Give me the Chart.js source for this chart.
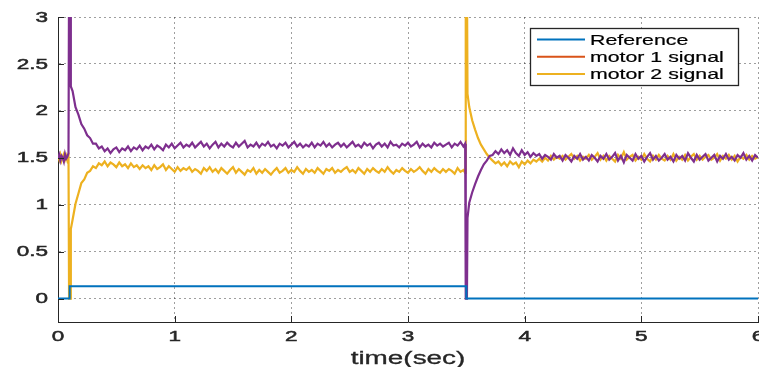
<!DOCTYPE html>
<html>
<head>
<meta charset="utf-8">
<script src="https://cdn.jsdelivr.net/npm/chart.js@4.4.1/dist/chart.umd.min.js"></script>
<style>
  html, body { margin: 0; padding: 0; background: #fff; }
  #chart { display: block; }
</style>
</head>
<body>
<canvas id="chart" width="759" height="367"></canvas>
<script>
// ─── DATA ────────────────────────────────────────────────────────────────────
const X_TICKS = [0, 1, 2, 3, 4, 5, 6];
const Y_TICKS = [0, 0.5, 1, 1.5, 2, 2.5, 3];
const LEGEND_LABELS = ['Reference', 'motor 1 signal', 'motor 2 signal'];
const LEGEND_COLORS = ['#0072BD', '#D95319', '#EDB120'];

// reference step
const REF_T = [0, 0.1, 0.1, 3.5, 3.5, 6];
const REF_V = [0, 0, 0.13, 0.13, 0, 0];

// sample times of the motor signals (sec)
const TIME = [
  0, 0.01, 0.02, 0.03, 0.04, 0.05, 0.06, 0.07, 0.08, 0.09,
  0.095, 0.105, 0.11,
  0.125, 0.15, 0.175, 0.2, 0.225, 0.25, 0.275, 0.3,
  0.325, 0.35, 0.375, 0.4, 0.425, 0.45, 0.475, 0.5,
  0.525, 0.55, 0.575, 0.6, 0.625, 0.65, 0.675, 0.7,
  0.725, 0.75, 0.775, 0.8, 0.825, 0.85, 0.875, 0.9,
  0.925, 0.95, 0.975, 1, 1.025, 1.05, 1.075, 1.1,
  1.125, 1.15, 1.175, 1.2, 1.225, 1.25, 1.275, 1.3,
  1.325, 1.35, 1.375, 1.4, 1.425, 1.45, 1.475, 1.5,
  1.525, 1.55, 1.575, 1.6, 1.625, 1.65, 1.675, 1.7,
  1.725, 1.75, 1.775, 1.8, 1.825, 1.85, 1.875, 1.9,
  1.925, 1.95, 1.975, 2, 2.025, 2.05, 2.075, 2.1,
  2.125, 2.15, 2.175, 2.2, 2.225, 2.25, 2.275, 2.3,
  2.325, 2.35, 2.375, 2.4, 2.425, 2.45, 2.475, 2.5,
  2.525, 2.55, 2.575, 2.6, 2.625, 2.65, 2.675, 2.7,
  2.725, 2.75, 2.775, 2.8, 2.825, 2.85, 2.875, 2.9,
  2.925, 2.95, 2.975, 3, 3.025, 3.05, 3.075, 3.1,
  3.125, 3.15, 3.175, 3.2, 3.225, 3.25, 3.275, 3.3,
  3.325, 3.35, 3.375, 3.4, 3.425, 3.45, 3.475,
  3.49, 3.495, 3.505, 3.51,
  3.525, 3.55, 3.575, 3.6, 3.625, 3.65, 3.675, 3.7,
  3.725, 3.75, 3.775, 3.8, 3.825, 3.85, 3.875, 3.9,
  3.925, 3.95, 3.975, 4, 4.025, 4.05, 4.075, 4.1,
  4.125, 4.15, 4.175, 4.2, 4.225, 4.25, 4.275, 4.3,
  4.325, 4.35, 4.375, 4.4, 4.425, 4.45, 4.475, 4.5,
  4.525, 4.55, 4.575, 4.6, 4.625, 4.65, 4.675, 4.7,
  4.725, 4.75, 4.775, 4.8, 4.825, 4.85, 4.875, 4.9,
  4.925, 4.95, 4.975, 5, 5.025, 5.05, 5.075, 5.1,
  5.125, 5.15, 5.175, 5.2, 5.225, 5.25, 5.275, 5.3,
  5.325, 5.35, 5.375, 5.4, 5.425, 5.45, 5.475, 5.5,
  5.525, 5.55, 5.575, 5.6, 5.625, 5.65, 5.675, 5.7,
  5.725, 5.75, 5.775, 5.8, 5.825, 5.85, 5.875, 5.9,
  5.925, 5.95, 5.975, 6
];

// motor 1 (purple trace)
const MOTOR1 = [
  1.49, 1.53, 1.47, 1.52, 1.50, 1.46, 1.54, 1.49, 1.51, 1.55,
  3.5, 3.5, 2.26,
  2.21, 2.04, 1.96, 1.86, 1.81, 1.74, 1.71, 1.65,
  1.65, 1.60, 1.62, 1.57, 1.60, 1.55, 1.59, 1.61,
  1.56, 1.60, 1.58, 1.62, 1.57, 1.61, 1.59, 1.63,
  1.58, 1.62, 1.60, 1.64, 1.59, 1.63, 1.61, 1.58,
  1.64, 1.61, 1.65, 1.60, 1.63, 1.66, 1.61, 1.64,
  1.62, 1.66, 1.61, 1.64, 1.67, 1.62, 1.65, 1.60,
  1.64, 1.67, 1.61, 1.65, 1.62, 1.66, 1.63, 1.61,
  1.66, 1.62, 1.65, 1.68, 1.61, 1.64, 1.62, 1.66,
  1.61, 1.65, 1.63, 1.67, 1.62, 1.64, 1.60, 1.65,
  1.63, 1.66, 1.61, 1.64, 1.67, 1.62, 1.65, 1.61,
  1.64, 1.62, 1.66, 1.61, 1.65, 1.63, 1.67, 1.62,
  1.65, 1.61, 1.64, 1.66, 1.62, 1.65, 1.61, 1.64,
  1.67, 1.62, 1.64, 1.61, 1.66, 1.63, 1.65, 1.60,
  1.64, 1.66, 1.62, 1.65, 1.61, 1.67, 1.63, 1.64,
  1.61, 1.65, 1.63, 1.66, 1.62, 1.64, 1.67, 1.61,
  1.65, 1.62, 1.64, 1.61, 1.66, 1.63, 1.65, 1.62,
  1.64, 1.66, 1.61, 1.65, 1.63, 1.67, 1.62,
  1.65, 0, 0, 0.86,
  1.02, 1.13, 1.22, 1.30, 1.37, 1.43, 1.47, 1.52,
  1.53, 1.57, 1.54, 1.59, 1.55, 1.58, 1.53, 1.60,
  1.55, 1.52, 1.58, 1.53, 1.56, 1.51, 1.55, 1.52,
  1.54, 1.49, 1.53, 1.51, 1.48, 1.54, 1.50, 1.52,
  1.47, 1.53, 1.50, 1.46, 1.52, 1.49, 1.54, 1.48,
  1.51, 1.47, 1.53, 1.50, 1.46, 1.52, 1.49, 1.54,
  1.48, 1.51, 1.55, 1.47, 1.52, 1.45, 1.53, 1.50,
  1.47, 1.54, 1.49, 1.52, 1.46, 1.51, 1.55, 1.48,
  1.52, 1.47, 1.50, 1.54, 1.48, 1.51, 1.46, 1.53,
  1.49, 1.52, 1.47, 1.55, 1.50, 1.46, 1.53, 1.48,
  1.51, 1.54, 1.47, 1.50, 1.53, 1.46, 1.52, 1.49,
  1.54, 1.48, 1.51, 1.47, 1.53, 1.50, 1.55, 1.48,
  1.52, 1.47, 1.53, 1.50
];

// motor 2 (yellow trace)
const MOTOR2 = [
  1.52, 1.48, 1.53, 1.47, 1.51, 1.54, 1.48, 1.52, 1.47, 1.50,
  0, 0, 0.74,
  0.84, 1.01, 1.12, 1.23, 1.27, 1.34, 1.36, 1.41,
  1.39, 1.44, 1.42, 1.46, 1.41, 1.45, 1.43, 1.40,
  1.45, 1.41, 1.43, 1.39, 1.44, 1.40, 1.42, 1.38,
  1.42, 1.39, 1.41, 1.37, 1.42, 1.38, 1.40, 1.43,
  1.37, 1.41, 1.38, 1.35, 1.40, 1.36, 1.39, 1.37,
  1.40, 1.35, 1.38, 1.36, 1.33, 1.39, 1.36, 1.40,
  1.35, 1.38, 1.34, 1.39, 1.36, 1.33, 1.37, 1.40,
  1.34, 1.38, 1.35, 1.32, 1.37, 1.35, 1.39, 1.33,
  1.37, 1.34, 1.38, 1.35, 1.32, 1.36, 1.39, 1.34,
  1.36, 1.39, 1.34, 1.37, 1.35, 1.40, 1.36, 1.33,
  1.38, 1.35, 1.37, 1.34, 1.39, 1.36, 1.33, 1.38,
  1.36, 1.39, 1.34, 1.37, 1.35, 1.38, 1.40, 1.35,
  1.37, 1.34, 1.39, 1.36, 1.33, 1.38, 1.35, 1.39,
  1.36, 1.34, 1.38, 1.35, 1.40, 1.36, 1.33, 1.37,
  1.35, 1.39, 1.36, 1.34, 1.38, 1.35, 1.37, 1.40,
  1.36, 1.33, 1.38, 1.35, 1.39, 1.36, 1.34, 1.38,
  1.35, 1.38, 1.36, 1.33, 1.39, 1.35, 1.37,
  1.34, 3.5, 3.5, 2.18,
  2.04, 1.90, 1.80, 1.71, 1.64, 1.59, 1.54, 1.50,
  1.47, 1.44, 1.46, 1.42, 1.45, 1.41, 1.46, 1.43,
  1.45, 1.40, 1.46, 1.43, 1.47, 1.44, 1.48, 1.46,
  1.49, 1.46, 1.50, 1.47, 1.52, 1.48, 1.51, 1.49,
  1.52, 1.48, 1.51, 1.54, 1.49, 1.52, 1.47, 1.51,
  1.49, 1.53, 1.48, 1.51, 1.55, 1.48, 1.52, 1.47,
  1.52, 1.49, 1.46, 1.53, 1.49, 1.56, 1.48, 1.51,
  1.53, 1.47, 1.51, 1.48, 1.54, 1.49, 1.46, 1.52,
  1.48, 1.53, 1.49, 1.47, 1.52, 1.48, 1.54, 1.47,
  1.51, 1.48, 1.53, 1.47, 1.51, 1.54, 1.48, 1.52,
  1.48, 1.51, 1.53, 1.48, 1.50, 1.54, 1.47, 1.52,
  1.49, 1.53, 1.48, 1.52, 1.46, 1.51, 1.49, 1.53,
  1.48, 1.52, 1.49, 1.51
];

// ─── STYLE ───────────────────────────────────────────────────────────────────
const TEXT_COLOR = '#262626';
const GRID_COLOR = 'rgba(0,0,0,0.38)';
const FONT = "'Liberation Sans', Arial, Helvetica, sans-serif";

const toPoints = (xs, ys) => xs.map((x, i) => ({ x, y: ys[i] }));

// text in the figure is drawn wide (stretched horizontally) and a bit heavy
function wideText(ctx, text, x, y, align, sx, heavy) {
  ctx.save();
  ctx.translate(x, y);
  ctx.scale(sx, 1);
  ctx.textAlign = align;
  ctx.textBaseline = 'middle';
  ctx.fillText(text, 0, 0);
  if (heavy) {
    ctx.lineWidth = heavy;
    ctx.strokeStyle = ctx.fillStyle;
    ctx.strokeText(text, 0, 0);
  }
  ctx.restore();
}

// ─── AXIS LABELS, INNER TICKS, LEGEND ───────────────────────────────────────
const matlabLook = {
  id: 'matlabLook',
  afterDraw(chart) {
    const { ctx, chartArea: a, scales: { x, y } } = chart;

    // inward tick marks
    ctx.save();
    ctx.strokeStyle = TEXT_COLOR;
    ctx.lineWidth = 1;
    ctx.beginPath();
    X_TICKS.forEach(v => {
      const px = Math.round(x.getPixelForValue(v)) + 0.5;
      ctx.moveTo(px, a.bottom);
      ctx.lineTo(px, a.bottom - 6);
    });
    Y_TICKS.forEach(v => {
      const py = Math.round(y.getPixelForValue(v)) + 0.5;
      ctx.moveTo(a.left, py);
      ctx.lineTo(a.left + 6, py);
    });
    ctx.stroke();
    ctx.restore();

    // tick labels
    ctx.save();
    ctx.fillStyle = TEXT_COLOR;
    ctx.font = `15px ${FONT}`;
    X_TICKS.forEach(v => wideText(ctx, String(v), x.getPixelForValue(v), a.bottom + 15, 'center', 1.5, 0.5));
    Y_TICKS.forEach(v => wideText(ctx, String(v), a.left - 10, y.getPixelForValue(v) + 0.5, 'right', 1.5, 0.5));

    // axis title
    ctx.font = `18px ${FONT}`;
    wideText(ctx, 'time(sec)', (a.left + a.right) / 2, a.bottom + 37, 'center', 1.55, 0.3);
    ctx.restore();

    // legend box
    const bx = 530, by = 28, bw = 208, bh = 57;
    ctx.save();
    ctx.fillStyle = '#fff';
    ctx.fillRect(bx, by, bw, bh);
    ctx.strokeStyle = TEXT_COLOR;
    ctx.lineWidth = 1.3;
    ctx.strokeRect(bx + 0.5, by + 0.5, bw, bh);
    ctx.font = `15px ${FONT}`;
    LEGEND_LABELS.forEach((label, i) => {
      const ry = by + 11.5 + i * 17.3;
      ctx.strokeStyle = LEGEND_COLORS[i];
      ctx.lineWidth = 2;
      ctx.beginPath();
      ctx.moveTo(bx + 7, ry);
      ctx.lineTo(bx + 55, ry);
      ctx.stroke();
      ctx.fillStyle = '#000';
      wideText(ctx, label, bx + 60, ry + 1, 'left', 1.42, 0.2);
    });
    ctx.restore();
  }
};

// ─── CHART ───────────────────────────────────────────────────────────────────
const ctx = document.getElementById('chart').getContext('2d');

new Chart(ctx, {
  type: 'line',
  data: {
    datasets: [
      {
        label: 'Reference',
        data: toPoints(REF_T, REF_V),
        borderColor: '#0072BD',
        borderWidth: 2,
        order: 0,
      },
      {
        label: 'motor 1 signal',
        data: toPoints(TIME, MOTOR1),
        borderColor: '#7E2F8E',
        borderWidth: 2.2,
        order: 1,
      },
      {
        label: 'motor 2 signal',
        data: toPoints(TIME, MOTOR2),
        borderColor: '#EDB120',
        borderWidth: 2.2,
        order: 2,
      }
    ]
  },
  options: {
    responsive: false,
    animation: false,
    events: [],
    elements: {
      point: { radius: 0 },
      line: { tension: 0, fill: false, borderJoinStyle: 'miter' }
    },
    layout: { padding: { top: 17, right: 1, left: 0, bottom: 0 } },
    plugins: {
      legend: { display: false },
      tooltip: { enabled: false },
    },
    scales: {
      x: {
        type: 'linear',
        min: 0,
        max: 6,
        afterBuildTicks: s => { s.ticks = X_TICKS.map(v => ({ value: v })); },
        afterFit: s => { s.height = 45; s.paddingLeft = 0; s.paddingRight = 0; },
        ticks: { display: false },
        grid: { color: GRID_COLOR, drawTicks: false, lineWidth: 1 },
        border: { display: true, color: TEXT_COLOR, width: 1, dash: [2, 3] },
      },
      y: {
        type: 'linear',
        min: -0.25,
        max: 3,
        afterBuildTicks: s => { s.ticks = Y_TICKS.map(v => ({ value: v })); },
        afterFit: s => { s.width = 58; s.paddingTop = 0; s.paddingBottom = 0; },
        ticks: { display: false },
        grid: { color: GRID_COLOR, drawTicks: false, lineWidth: 1 },
        border: { display: true, color: TEXT_COLOR, width: 1, dash: [2, 3] },
      }
    }
  },
  plugins: [matlabLook]
});
</script>
</body>
</html>
